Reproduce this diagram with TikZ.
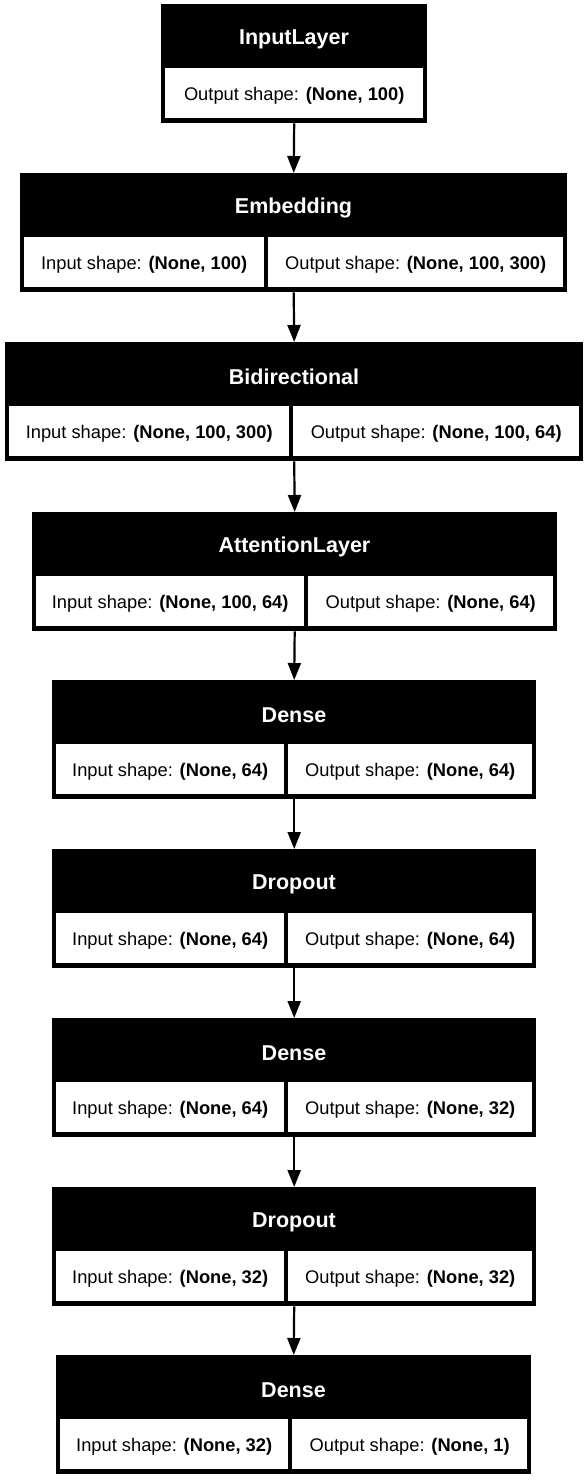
\documentclass[tikz,border=0pt]{standalone}
\usepackage{fontspec}
\setmainfont{Liberation Sans}
\usetikzlibrary{arrows.meta}

\tikzset{
  layerbox/.style={fill=black, inner sep=0pt, anchor=north west, minimum height=119pt},
  headtext/.style={text=white, inner sep=0pt, font=\fontsize{21.5pt}{26pt}\selectfont\bfseries},
  cellbox/.style={fill=white, inner sep=0pt, anchor=north west, minimum height=50pt,
    text height=19.4pt, text depth=3.9pt, font=\fontsize{18.3pt}{22pt}\selectfont},
  flow/.style={line width=2.2pt, -{Triangle[length=17pt, width=13pt]}}
}

% name, left, top, right, split, title, input, output
\newcommand{\netlayer}[8]{%
  \node[layerbox, minimum width={(#4-#2)*1pt}] (#1) at (#2,#3) {};
  \node[headtext] (#1-title) at ({(#2+#4)/2},{#3+35}) {#6};
  \node[cellbox, minimum width={(#5-#2-6)*1pt}] (#1-in) at ({#2+4},{#3+64}) {Input shape: \textbf{#7}};
  \node[cellbox, minimum width={(#4-#5-6)*1pt}] (#1-out) at ({#5+2},{#3+64}) {Output shape: \textbf{#8}};
}

\begin{document}
\begin{tikzpicture}[x=1pt, y=-1pt]
  \useasboundingbox (0,0) rectangle (588,1480);

  % input layer has only an output cell
  \node[layerbox, minimum width=266pt] (inp) at (161,4) {};
  \node[headtext] (inp-title) at (294,39) {InputLayer};
  \node[cellbox, minimum width=258pt] (inp-out) at (165,68) {Output shape: \textbf{(None, 100)}};

  \netlayer{emb}{20}{173}{567}{266}{Embedding}{(None, 100)}{(None, 100, 300)}
  \netlayer{bidir}{5}{342}{583}{291}{Bidirectional}{(None, 100, 300)}{(None, 100, 64)}
  \netlayer{att}{32}{512}{557}{306}{AttentionLayer}{(None, 100, 64)}{(None, 64)}
  \netlayer{dense1}{52}{680}{536}{286}{Dense}{(None, 64)}{(None, 64)}
  \netlayer{drop1}{52}{849}{536}{286}{Dropout}{(None, 64)}{(None, 64)}
  \netlayer{dense2}{52}{1018}{536}{286}{Dense}{(None, 64)}{(None, 32)}
  \netlayer{drop2}{52}{1187}{536}{286}{Dropout}{(None, 32)}{(None, 32)}
  \netlayer{dense3}{56}{1355}{531}{290}{Dense}{(None, 32)}{(None, 1)}

  \draw[flow] (inp.south) -- (emb.north);
  \draw[flow] (emb.south) -- (bidir.north);
  \draw[flow] (bidir.south) -- (att.north);
  \draw[flow] (att.south) -- (dense1.north);
  \draw[flow] (dense1.south) -- (drop1.north);
  \draw[flow] (drop1.south) -- (dense2.north);
  \draw[flow] (dense2.south) -- (drop2.north);
  \draw[flow] (drop2.south) -- (dense3.north);
\end{tikzpicture}
\end{document}
